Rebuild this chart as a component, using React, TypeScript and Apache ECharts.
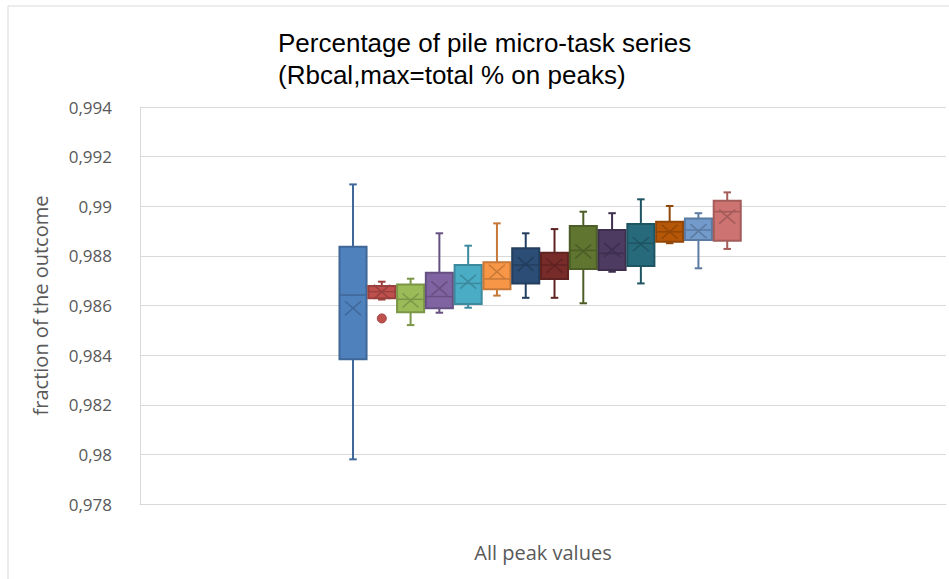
import React, { useEffect, useRef } from "react";
import * as echarts from "echarts";

const TITLE = "Percentage of pile micro-task series\n(Rbcal,max=total % on peaks)";
const X_NAME = "All peak values";
const Y_NAME = "fraction of the outcome";

const Y_MIN = 0.978;
const Y_MAX = 0.994;
const Y_STEP = 0.002;

// Five-number summaries plus mean, one entry per micro-task series, left to right
const whiskerLow = [0.9798, 0.98624, 0.98521, 0.98571, 0.98591, 0.9864, 0.98631, 0.98631, 0.98609, 0.98736, 0.98689, 0.98851, 0.9875, 0.98828];
const quartile1 = [0.98383, 0.98629, 0.98573, 0.98589, 0.98606, 0.98665, 0.98689, 0.98707, 0.98747, 0.98743, 0.98759, 0.98857, 0.98864, 0.98861];
const medians = [0.98642, 0.98656, 0.98625, 0.98636, 0.98689, 0.98707, 0.98763, 0.98763, 0.98822, 0.9881, 0.98851, 0.98897, 0.98904, 0.98978];
const quartile3 = [0.98837, 0.98679, 0.98685, 0.98732, 0.98763, 0.98774, 0.98831, 0.98813, 0.9892, 0.98904, 0.98928, 0.98938, 0.98951, 0.99022];
const whiskerHigh = [0.99088, 0.98696, 0.98708, 0.98891, 0.98841, 0.98931, 0.98891, 0.98908, 0.98978, 0.98972, 0.99028, 0.99001, 0.98972, 0.99056];
const means = [0.98589, 0.98655, 0.9862, 0.98669, 0.98696, 0.98736, 0.98767, 0.9876, 0.98818, 0.98824, 0.98847, 0.98897, 0.989, 0.98958];

// Outlying points: [series index, value]
const outliers = [[1, 0.98548]];

const boxColors = [
  "#4F81BD", "#C0504D", "#9BBB59", "#8064A2", "#4BACC6", "#F79646", "#2C4D75",
  "#772C2A", "#5F7530", "#4D3B62", "#276A7C", "#B65708", "#729ACA", "#CD7371",
];

function shade(hex: string, f: number): string {
  const n = parseInt(hex.slice(1), 16);
  const r = Math.round(((n >> 16) & 255) * f);
  const g = Math.round(((n >> 8) & 255) * f);
  const b = Math.round((n & 255) * f);
  return "#" + ((1 << 24) | (r << 16) | (g << 8) | b).toString(16).slice(1);
}

const BOX_UNITS = 0.94;
const CAP_UNITS = 0.26;

export default function App() {
  const ref = useRef<HTMLDivElement>(null);

  useEffect(() => {
    if (!ref.current) return;
    const chart = echarts.init(ref.current, null, { renderer: "svg" });

    const boxData = boxColors.map((_, i) => [
      i, whiskerLow[i], quartile1[i], medians[i], quartile3[i], whiskerHigh[i], means[i],
    ]);

    const renderBox = (params: any, api: any) => {
      const i = params.dataIndex;
      const fill = boxColors[i];
      const line = shade(fill, 0.8);
      const pLow = api.coord([api.value(0), api.value(1)]);
      const pQ1 = api.coord([api.value(0), api.value(2)]);
      const pMed = api.coord([api.value(0), api.value(3)]);
      const pQ3 = api.coord([api.value(0), api.value(4)]);
      const pHigh = api.coord([api.value(0), api.value(5)]);
      const pMean = api.coord([api.value(0), api.value(6)]);
      const cx = pLow[0];
      const bw = api.size([BOX_UNITS, 0])[0];
      const cw = api.size([CAP_UNITS, 0])[0];
      const mx = 8;
      const my = 7;
      const stroke = { stroke: line, lineWidth: 2 };
      return {
        type: "group",
        children: [
          { type: "line", shape: { x1: cx, y1: pHigh[1], x2: cx, y2: pQ3[1] }, style: stroke },
          { type: "line", shape: { x1: cx, y1: pQ1[1], x2: cx, y2: pLow[1] }, style: stroke },
          { type: "line", shape: { x1: cx - cw / 2, y1: pHigh[1], x2: cx + cw / 2, y2: pHigh[1] }, style: stroke },
          { type: "line", shape: { x1: cx - cw / 2, y1: pLow[1], x2: cx + cw / 2, y2: pLow[1] }, style: stroke },
          {
            type: "rect",
            shape: { x: cx - bw / 2, y: pQ3[1], width: bw, height: pQ1[1] - pQ3[1] },
            style: { fill, stroke: line, lineWidth: 2 },
          },
          { type: "line", shape: { x1: cx - bw / 2, y1: pMed[1], x2: cx + bw / 2, y2: pMed[1] }, style: { stroke: line, lineWidth: 1.5 } },
          { type: "line", shape: { x1: cx - mx, y1: pMean[1] - my, x2: cx + mx, y2: pMean[1] + my }, style: { stroke: line, lineWidth: 1.5 } },
          { type: "line", shape: { x1: cx - mx, y1: pMean[1] + my, x2: cx + mx, y2: pMean[1] - my }, style: { stroke: line, lineWidth: 1.5 } },
        ],
      };
    };

    chart.setOption({
      animation: false,
      backgroundColor: "#ffffff",
      title: {
        text: TITLE,
        left: 273,
        top: 22,
        textStyle: {
          fontFamily: "Liberation Sans",
          fontSize: 26,
          fontWeight: "normal",
          color: "#000000",
          lineHeight: 32,
        },
      },
      graphic: [
        {
          type: "rect",
          shape: { x: 8, y: 6, width: 960, height: 600 },
          style: { fill: "none", stroke: "#d9d9d9", lineWidth: 1 },
          silent: true,
        },
      ],
      grid: { left: 140, top: 107, right: 3, bottom: 75 },
      xAxis: {
        type: "value",
        min: -7.4,
        max: 20.6,
        name: X_NAME,
        nameLocation: "middle",
        nameGap: 38,
        nameTextStyle: { fontFamily: "Open Sans", fontSize: 20, color: "#595959" },
        axisLine: { show: true, onZero: false, lineStyle: { color: "#d9d9d9", width: 1 } },
        axisTick: { show: false },
        axisLabel: { show: false },
        splitLine: { show: false },
      },
      yAxis: {
        type: "value",
        min: Y_MIN,
        max: Y_MAX,
        interval: Y_STEP,
        name: Y_NAME,
        nameLocation: "middle",
        nameGap: 90,
        nameTextStyle: { fontFamily: "Open Sans", fontSize: 20, color: "#595959" },
        axisLine: { show: true, onZero: false, lineStyle: { color: "#d9d9d9", width: 1 } },
        axisTick: { show: false },
        axisLabel: {
          fontFamily: "Open Sans",
          fontSize: 17,
          color: "#595959",
          margin: 28,
          formatter: (v: number) => parseFloat(v.toFixed(3)).toString().replace(".", ","),
        },
        splitLine: { lineStyle: { color: "#d9d9d9", width: 1 } },
      },
      series: [
        {
          type: "custom",
          renderItem: renderBox,
          data: boxData,
          encode: { x: 0, y: [1, 2, 3, 4, 5, 6] },
          clip: false,
        },
        {
          type: "scatter",
          data: outliers,
          symbol: "circle",
          symbolSize: 9,
          itemStyle: {
            color: (p: any) => boxColors[p.value[0]],
            borderColor: "#9a4040",
            borderWidth: 1,
            opacity: 1,
          },
        },
      ],
    });

    return () => chart.dispose();
  }, []);

  return (
    <div
      ref={ref}
      style={{ position: "absolute", left: 0, top: 0, width: 949, height: 579 }}
    />
  );
}
